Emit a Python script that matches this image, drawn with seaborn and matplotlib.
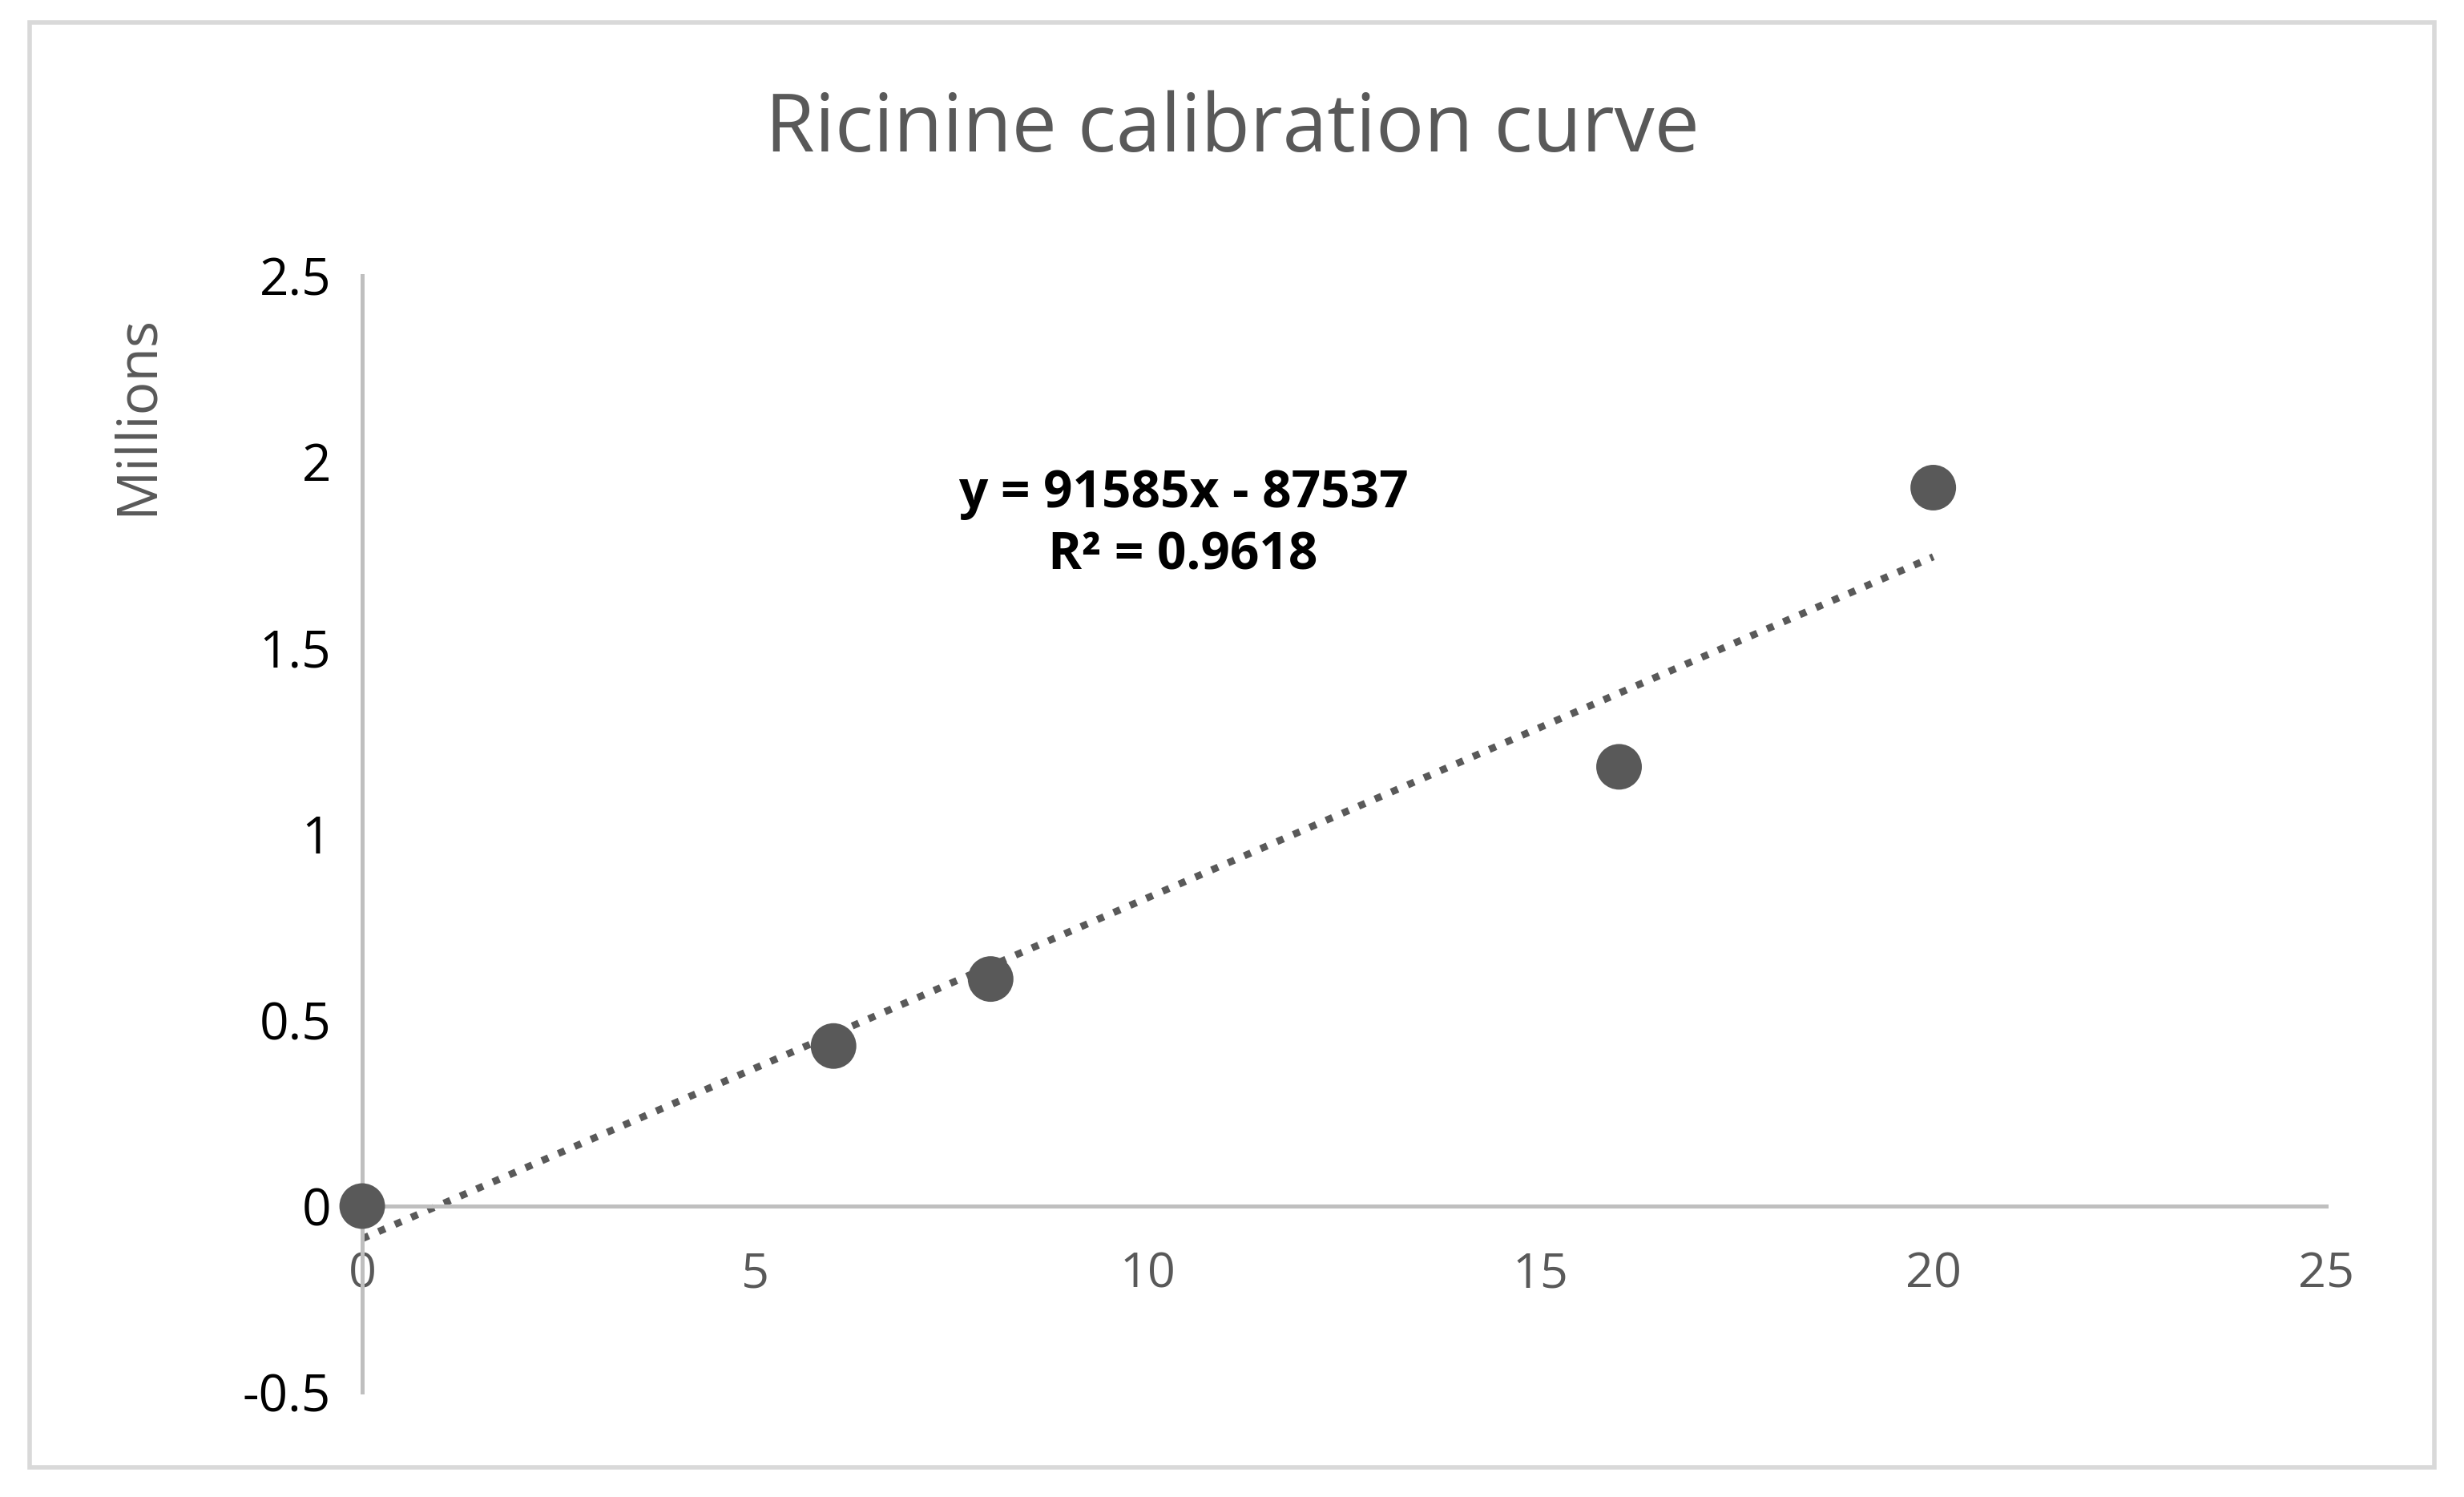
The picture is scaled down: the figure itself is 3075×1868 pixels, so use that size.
import numpy as np
import pandas as pd
import matplotlib
matplotlib.use('Agg')
import matplotlib.pyplot as plt
import seaborn as sns
from matplotlib.patches import Rectangle

# Calibration points (concentration vs peak area)
conc = [0, 6, 8, 16, 20]
area = [0, 430000, 610000, 1180000, 1930000]
slope = 91585
intercept = -87537
r2 = 0.9618

sns.set_theme(style='white')
plt.rcParams['font.family'] = ['Open Sans', 'DejaVu Sans']

df = pd.DataFrame({'conc': conc, 'area_m': np.array(area) / 1e6})
grey = '#595959'

fig = plt.figure(figsize=(15.375, 9.34), dpi=200)
ax = fig.add_axes([0.147, 0.070, 0.797, 0.746])

xfit = np.array([0, 20])
yfit = (slope * xfit + intercept) / 1e6
ax.plot(xfit, yfit, linestyle=(0, (1, 1.5)), color=grey, lw=3.2, zorder=2)
sns.scatterplot(data=df, x='conc', y='area_m', color=grey, s=420,
                edgecolor='none', ax=ax, zorder=3, clip_on=False)

ax.set_xlim(0, 25)
ax.set_ylim(-0.5, 2.5)
ax.set_xticks([0, 5, 10, 15, 20, 25])
ax.set_yticks([-0.5, 0, 0.5, 1, 1.5, 2, 2.5])
ax.set_yticklabels(['-0.5', '0', '0.5', '1', '1.5', '2', '2.5'])
ax.spines['bottom'].set_position(('data', 0))
for s in ['top', 'right']:
    ax.spines[s].set_visible(False)
for s in ['bottom', 'left']:
    ax.spines[s].set_color('#bfbfbf')
    ax.spines[s].set_linewidth(1.8)
ax.tick_params(axis='x', length=0, pad=20, labelsize=22, labelcolor=grey)
ax.tick_params(axis='y', length=0, pad=14, labelsize=23, labelcolor='black')
ax.set_xlabel('')
ax.set_ylabel('Millions', fontsize=25, color=grey)
ax.yaxis.set_label_coords(-0.1, 0.875)

ax.text(10.45, 1.83, 'y = 91585x - 87537\nR² = 0.9618', ha='center', va='center',
        fontsize=23, fontweight='bold', color='black', linespacing=1.25)

fig.suptitle('Ricinine calibration curve', fontsize=36, color=grey, y=0.94)

fig.patches.append(Rectangle((0.012, 0.02), 0.976, 0.965, transform=fig.transFigure,
                             fill=False, edgecolor='#d9d9d9', lw=2))

fig.savefig('out.png', dpi=200)
